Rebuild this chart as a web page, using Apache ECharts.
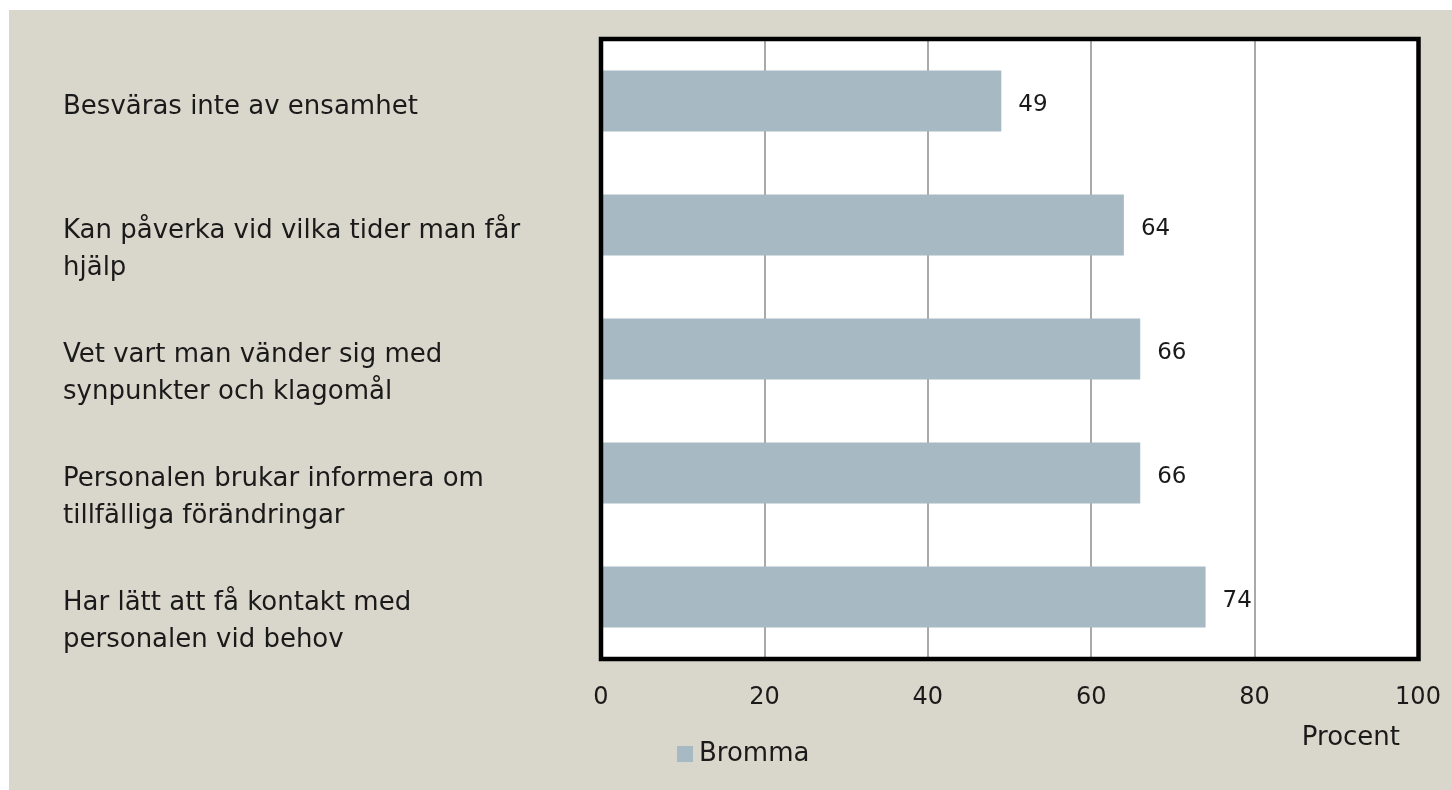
<!DOCTYPE html>
<html>
<head>
<meta charset="utf-8">
<script src="https://cdn.jsdelivr.net/npm/echarts@6/dist/echarts.min.js"></script>
<style>
html,body{margin:0;padding:0;background:#ffffff;}
#chart{width:1452px;height:790px;}
</style>
</head>
<body>
<div id="chart"></div>
<script>
var categories = [
  "Besväras inte av ensamhet",
  "Kan påverka vid vilka tider man får\nhjälp",
  "Vet vart man vänder sig med\nsynpunkter och klagomål",
  "Personalen brukar informera om\ntillfälliga förändringar",
  "Har lätt att få kontakt med\npersonalen vid behov"
];
var seriesName = "Bromma";
var values = [49, 64, 66, 66, 74];
var xTicks = [0, 20, 40, 60, 80, 100];
var axisName = "Procent";

var FONT = "DejaVu Sans";
var G = {left: 601, right: 34, top: 39, bottom: 131};
var W = 1452, H = 790;
var chart = echarts.init(document.getElementById('chart'), null, {renderer: 'canvas'});
chart.setOption({
  backgroundColor: '#ffffff',
  animation: false,
  graphic: [{
    type: 'rect', z: -10, silent: true,
    shape: {x: 9, y: 10, width: W - 9, height: H - 10},
    style: {fill: '#d9d7cb'}
  }, {
    type: 'rect', z: 100, silent: true,
    shape: {x: G.left, y: G.top, width: W - G.left - G.right + 0.5, height: H - G.top - G.bottom},
    style: {fill: 'none', stroke: '#000000', lineWidth: 4.5}
  }],
  grid: {
    left: G.left, right: G.right, top: G.top, bottom: G.bottom,
    show: true, backgroundColor: '#ffffff', borderWidth: 0,
    containLabel: false
  },
  legend: {
    show: true, left: 672, top: 736,
    itemWidth: 16, itemHeight: 16,
    icon: 'rect',
    textStyle: {fontFamily: FONT, fontSize: 26, color: '#1a1a1a', padding: [0, 0, 0, 1]},
    data: [seriesName]
  },
  xAxis: {
    type: 'value', min: xTicks[0], max: xTicks[xTicks.length - 1], interval: 20,
    axisLine: {show: false}, axisTick: {show: false},
    axisLabel: {fontFamily: FONT, fontSize: 24, color: '#1a1a1a', margin: 27},
    splitLine: {show: true, lineStyle: {color: '#8c8c8c', width: 1.5}},
    name: axisName, nameLocation: 'end', nameGap: 0,
    nameTextStyle: {fontFamily: FONT, fontSize: 26, color: '#1a1a1a', align: 'right', verticalAlign: 'top', padding: [66, 18, 0, 0]}
  },
  yAxis: {
    type: 'category', data: categories, inverse: true,
    axisLine: {show: false}, axisTick: {show: false},
    axisLabel: {
      fontFamily: FONT, fontSize: 26, color: '#1a1a1a', align: 'left', margin: 538,
      verticalAlign: 'top', lineHeight: 37, padding: [-12, 0, 0, 0]
    }
  },
  series: [{
    name: seriesName, type: 'bar', data: values,
    barCategoryGap: '51%',
    itemStyle: {color: '#a7bac4'},
    label: {show: true, position: 'right', distance: 17, offset: [0, 4], fontFamily: FONT, fontSize: 23, color: '#1a1a1a'}
  }]
});
</script>
</body>
</html>
